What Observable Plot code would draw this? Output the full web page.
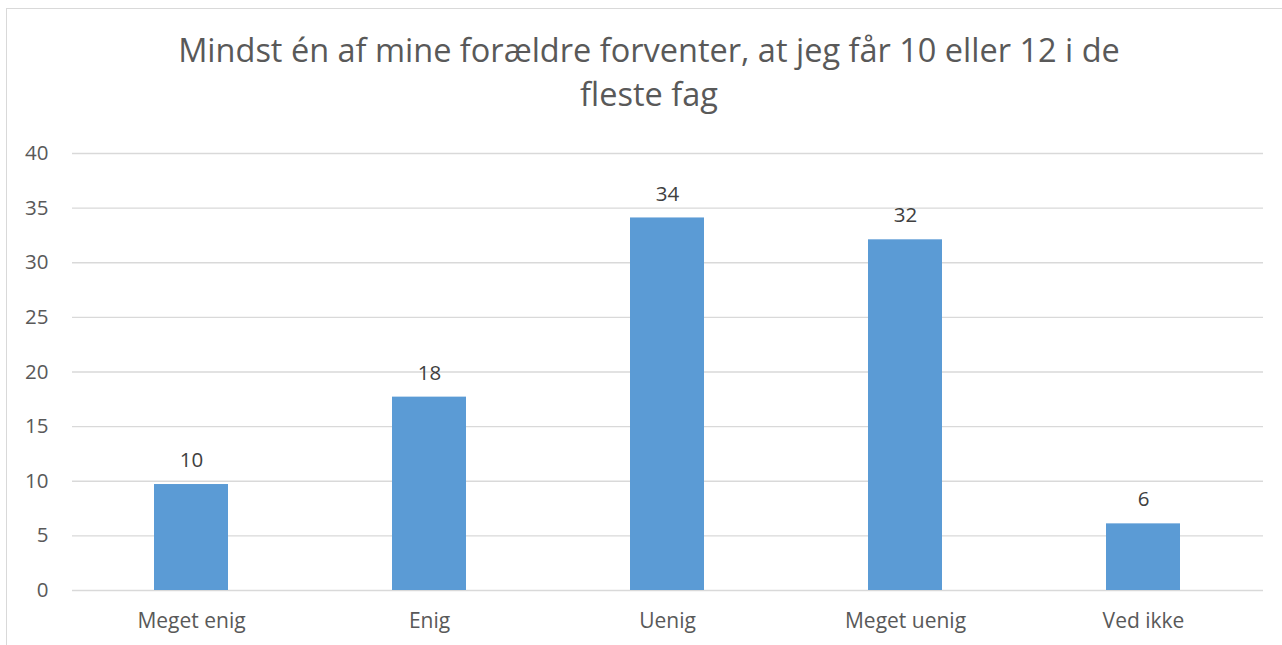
<!DOCTYPE html>
<html>
<head>
<meta charset="utf-8">
<script src="https://cdn.jsdelivr.net/npm/d3@7"></script>
<script src="https://cdn.jsdelivr.net/npm/@observablehq/plot@0.6"></script>
<style>
  html, body { margin: 0; padding: 0; background: #fff; overflow: hidden; }
  body { width: 1282px; height: 645px; position: relative; font-family: "Open Sans", sans-serif; }
  #frame { position: absolute; left: 6px; top: 8px; width: 1284px; height: 700px; border: 1.5px solid #d9d9d9; box-sizing: border-box; }
  #title { position: absolute; left: 164px; width: 970px; top: 28px; text-align: center; font-size: 32.5px; line-height: 44px; color: #595959; }
  #chart { position: absolute; left: 0; top: 130px; }
</style>
</head>
<body>
<div id="frame"></div>
<div id="title">Mindst én af mine forældre forventer, at jeg får 10 eller 12 i de fleste fag</div>
<div id="chart"></div>
<script>
const categories = ["Meget enig", "Enig", "Uenig", "Meget uenig", "Ved ikke"];
const values = [9.7, 17.7, 34.1, 32.1, 6.1];
const yTicks = [0, 5, 10, 15, 20, 25, 30, 35, 40];

const data = categories.map((c, i) => ({cat: c, val: values[i]}));
const fmt = d3.format(".0f");

const plot = Plot.plot({
  width: 1282,
  height: 515,
  marginTop: 23,
  marginBottom: 55,
  marginLeft: 72,
  marginRight: 19,
  style: {fontFamily: "Open Sans", background: "transparent", overflow: "visible"},
  x: {domain: categories, paddingInner: 0.688, paddingOuter: 0.344, label: null},
  y: {domain: [0, 40], label: null},
  marks: [
    Plot.ruleY(yTicks, {stroke: "#d9d9d9", strokeWidth: 1.3}),
    Plot.barY(data, {x: "cat", y: "val", fill: "#5b9bd5"}),
    Plot.text(data, {x: "cat", y: "val", text: d => fmt(d.val), dy: -24, fontSize: 20.5, fill: "#404040"}),
    Plot.axisY({ticks: yTicks, tickSize: 0, tickPadding: 24, fontSize: 20.5, color: "#595959", label: null}),
    Plot.axisX({tickSize: 0, tickPadding: 23, fontSize: 21, color: "#595959", label: null})
  ]
});
document.getElementById("chart").appendChild(plot);
</script>
</body>
</html>
